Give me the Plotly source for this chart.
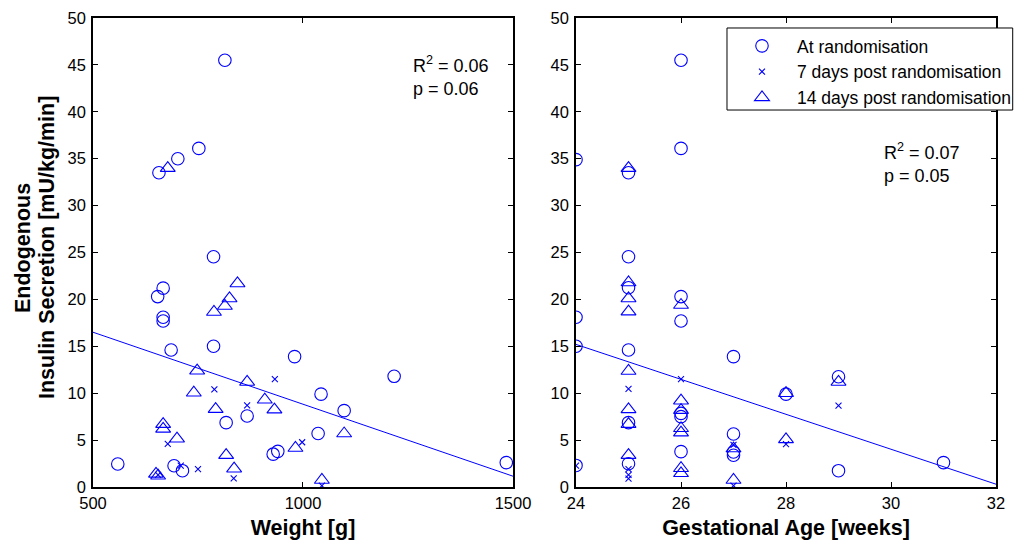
import plotly.graph_objects as go

# ---------------- data ----------------
# Left panel: Weight [g] vs endogenous insulin secretion
w_rand = [814, 752, 702, 657, 787, 667, 654, 667, 667, 686, 787, 980, 867, 817,
          1043, 1036, 940, 929, 559, 693, 713, 1098, 1217, 1484]
eis_w_rand = [45.5, 36.1, 35.0, 33.5, 24.55, 21.2, 20.3, 18.1, 17.7, 14.6, 15.0, 13.9, 7.57, 6.86,
              9.9, 5.7, 3.8, 3.5, 2.45, 2.27, 1.74, 8.14, 11.8, 2.6]

w_d7 = [789, 933, 867, 678, 998, 709, 750, 835, 1045, 655]
eis_w_d7 = [10.4, 11.5, 8.7, 4.6, 4.77, 2.27, 1.9, 0.93, 0.14, 1.3]

w_d14 = [678, 844, 825, 814, 788, 748, 867, 740, 909, 792, 932, 667, 667, 700, 982, 817,
         836, 650, 655, 1045, 1098]
eis_w_d14 = [34.0, 21.7, 20.1, 19.3, 18.66, 12.4, 11.2, 10.05, 9.3, 8.3, 8.25, 6.7, 6.2, 5.15, 4.16, 3.4,
             1.95, 1.4, 1.2, 0.75, 5.7]

# Right panel: Gestational age [weeks]
ga_rand = [24, 24, 24, 24, 25, 25, 25, 25, 25, 25, 26, 26, 26, 26, 26, 26, 26,
           27, 27, 27, 27, 28, 29, 29, 31]
eis_ga_rand = [34.9, 18.1, 15.0, 2.3, 33.5, 24.55, 21.25, 14.6, 6.86, 2.48, 45.5, 36.1, 20.3, 17.7, 7.85, 7.5, 3.77,
               13.9, 5.65, 3.73, 3.38, 9.9, 11.76, 1.74, 2.6]

ga_d7 = [24, 25, 25, 25, 25, 26, 27, 27, 28, 29]
eis_ga_d7 = [2.27, 10.45, 1.9, 1.3, 0.9, 11.5, 4.5, 0.14, 4.58, 8.67]

ga_d14 = [25, 25, 25, 25, 25, 25, 25, 25, 26, 26, 26, 26, 26, 26, 26, 27, 27, 28, 28, 29]
eis_ga_d14 = [34.0, 21.8, 20.1, 18.7, 12.37, 8.28, 6.7, 3.4, 19.4, 9.2, 8.2, 6.26, 5.8, 2.0, 1.46,
              4.1, 0.75, 10.0, 5.08, 11.2]

# regression lines (value at the left axis limit, slope per unit x)
w_range = [500, 1500]
w_fit_at_500, w_fit_slope = 16.5, -0.01535
ga_range = [24, 32]
ga_fit_at_24, ga_fit_slope = 15.2, -1.8625

y_ticks = list(range(0, 51, 5))
w_ticks = [500, 1000, 1500]
ga_ticks = [24, 26, 28, 30, 32]

series_names = ["At randomisation", "7 days post randomisation", "14 days post randomisation"]
y_title_lines = ["Endogenous", "Insulin Secretion [mU/kg/min]"]
stats_left = ("0.06", "0.06")
stats_right = ("0.07", "0.05")

# ---------------- figure ----------------
BLUE = "rgb(0,0,255)"
FONT = "Liberation Sans, Arial, sans-serif"

fig = go.Figure()

sym = [("circle-open", 12.5), ("x-thin-open", 6), ("triangle-up-open", 13)]
left_sets = [(w_rand, eis_w_rand), (w_d7, eis_w_d7), (w_d14, eis_w_d14)]
right_sets = [(ga_rand, eis_ga_rand), (ga_d7, eis_ga_d7), (ga_d14, eis_ga_d14)]

for i, (xs, ys) in enumerate(left_sets):
    fig.add_trace(go.Scatter(x=xs, y=ys, mode="markers", name=series_names[i],
                             marker=dict(symbol=sym[i][0], size=sym[i][1], color=BLUE,
                                         line=dict(color=BLUE, width=1.1)),
                             showlegend=False, xaxis="x", yaxis="y"))
fig.add_trace(go.Scatter(x=w_range,
                         y=[w_fit_at_500 + w_fit_slope * (v - w_range[0]) for v in w_range],
                         mode="lines", line=dict(color=BLUE, width=1), showlegend=False,
                         xaxis="x", yaxis="y"))

for i, (xs, ys) in enumerate(right_sets):
    fig.add_trace(go.Scatter(x=xs, y=ys, mode="markers", name=series_names[i],
                             marker=dict(symbol=sym[i][0], size=sym[i][1], color=BLUE,
                                         line=dict(color=BLUE, width=1.1)),
                             showlegend=True, xaxis="x2", yaxis="y2"))
fig.add_trace(go.Scatter(x=ga_range,
                         y=[ga_fit_at_24 + ga_fit_slope * (v - ga_range[0]) for v in ga_range],
                         mode="lines", line=dict(color=BLUE, width=1), showlegend=False,
                         xaxis="x2", yaxis="y2"))

axis_common = dict(showgrid=False, zeroline=False, showline=True, linecolor="black", linewidth=1.5,
                   mirror="ticks", ticks="inside", ticklen=5, tickcolor="black", tickwidth=1,
                   automargin=False,
                   tickfont=dict(family=FONT, size=16.5, color="black"))
title_font = dict(family=FONT, size=21.5, color="black")

# the page body has an 8px margin, so the figure is 8px smaller than the window
fig.update_layout(
    width=1014, height=534,
    margin=dict(l=85, r=26, t=10, b=55, autoexpand=False),
    paper_bgcolor="white", plot_bgcolor="white",
    font=dict(family=FONT, size=16, color="black"),
    xaxis=dict(domain=[0, 0.4651], range=w_range, tickvals=w_ticks,
               title=dict(text="<b>Weight [g]</b>", font=title_font, standoff=9), **axis_common),
    yaxis=dict(range=[0, 50], tickvals=y_ticks, ticklabelstandoff=2, **axis_common),
    xaxis2=dict(domain=[0.5349, 1], range=ga_range, tickvals=ga_ticks, anchor="y2",
                title=dict(text="<b>Gestational Age [weeks]</b>", font=title_font, standoff=9),
                **axis_common),
    yaxis2=dict(range=[0, 50], tickvals=y_ticks, anchor="x2", ticklabelstandoff=2, **axis_common),
    legend=dict(x=0.7021, y=0.9787, xanchor="left", yanchor="top",
                borderwidth=0, bgcolor="rgba(0,0,0,0)",
                font=dict(family=FONT, size=17.5, color="black"),
                itemwidth=60, tracegroupgap=0),
    showlegend=True,
)

# legend frame (white box with black border, covering the axis line beneath it)
fig.add_shape(type="rect", xref="paper", yref="paper", x0=0.7021, x1=1.0185, y0=0.8038, y1=0.9787,
              line=dict(color="black", width=1), fillcolor="white", layer="above")

# y-axis title, two bold lines rotated
for xp, line in zip([-0.0775, -0.0509], y_title_lines):
    fig.add_annotation(xref="paper", yref="paper", x=xp, y=0.5096, xanchor="center", yanchor="middle",
                       textangle=-90, showarrow=False, text=f"<b>{line}</b>", font=title_font)

fig.add_annotation(xref="x domain", yref="y domain", x=0.757, y=0.93, xanchor="left", yanchor="top",
                   align="left", showarrow=False,
                   text=f"R<sup>2</sup> = {stats_left[0]}<br>p = {stats_left[1]}",
                   font=dict(family=FONT, size=18, color="black"))
fig.add_annotation(xref="x2 domain", yref="y2 domain", x=0.729, y=0.745, xanchor="left", yanchor="top",
                   align="left", showarrow=False,
                   text=f"R<sup>2</sup> = {stats_right[0]}<br>p = {stats_right[1]}",
                   font=dict(family=FONT, size=18, color="black"))

fig.write_html("out.html")
